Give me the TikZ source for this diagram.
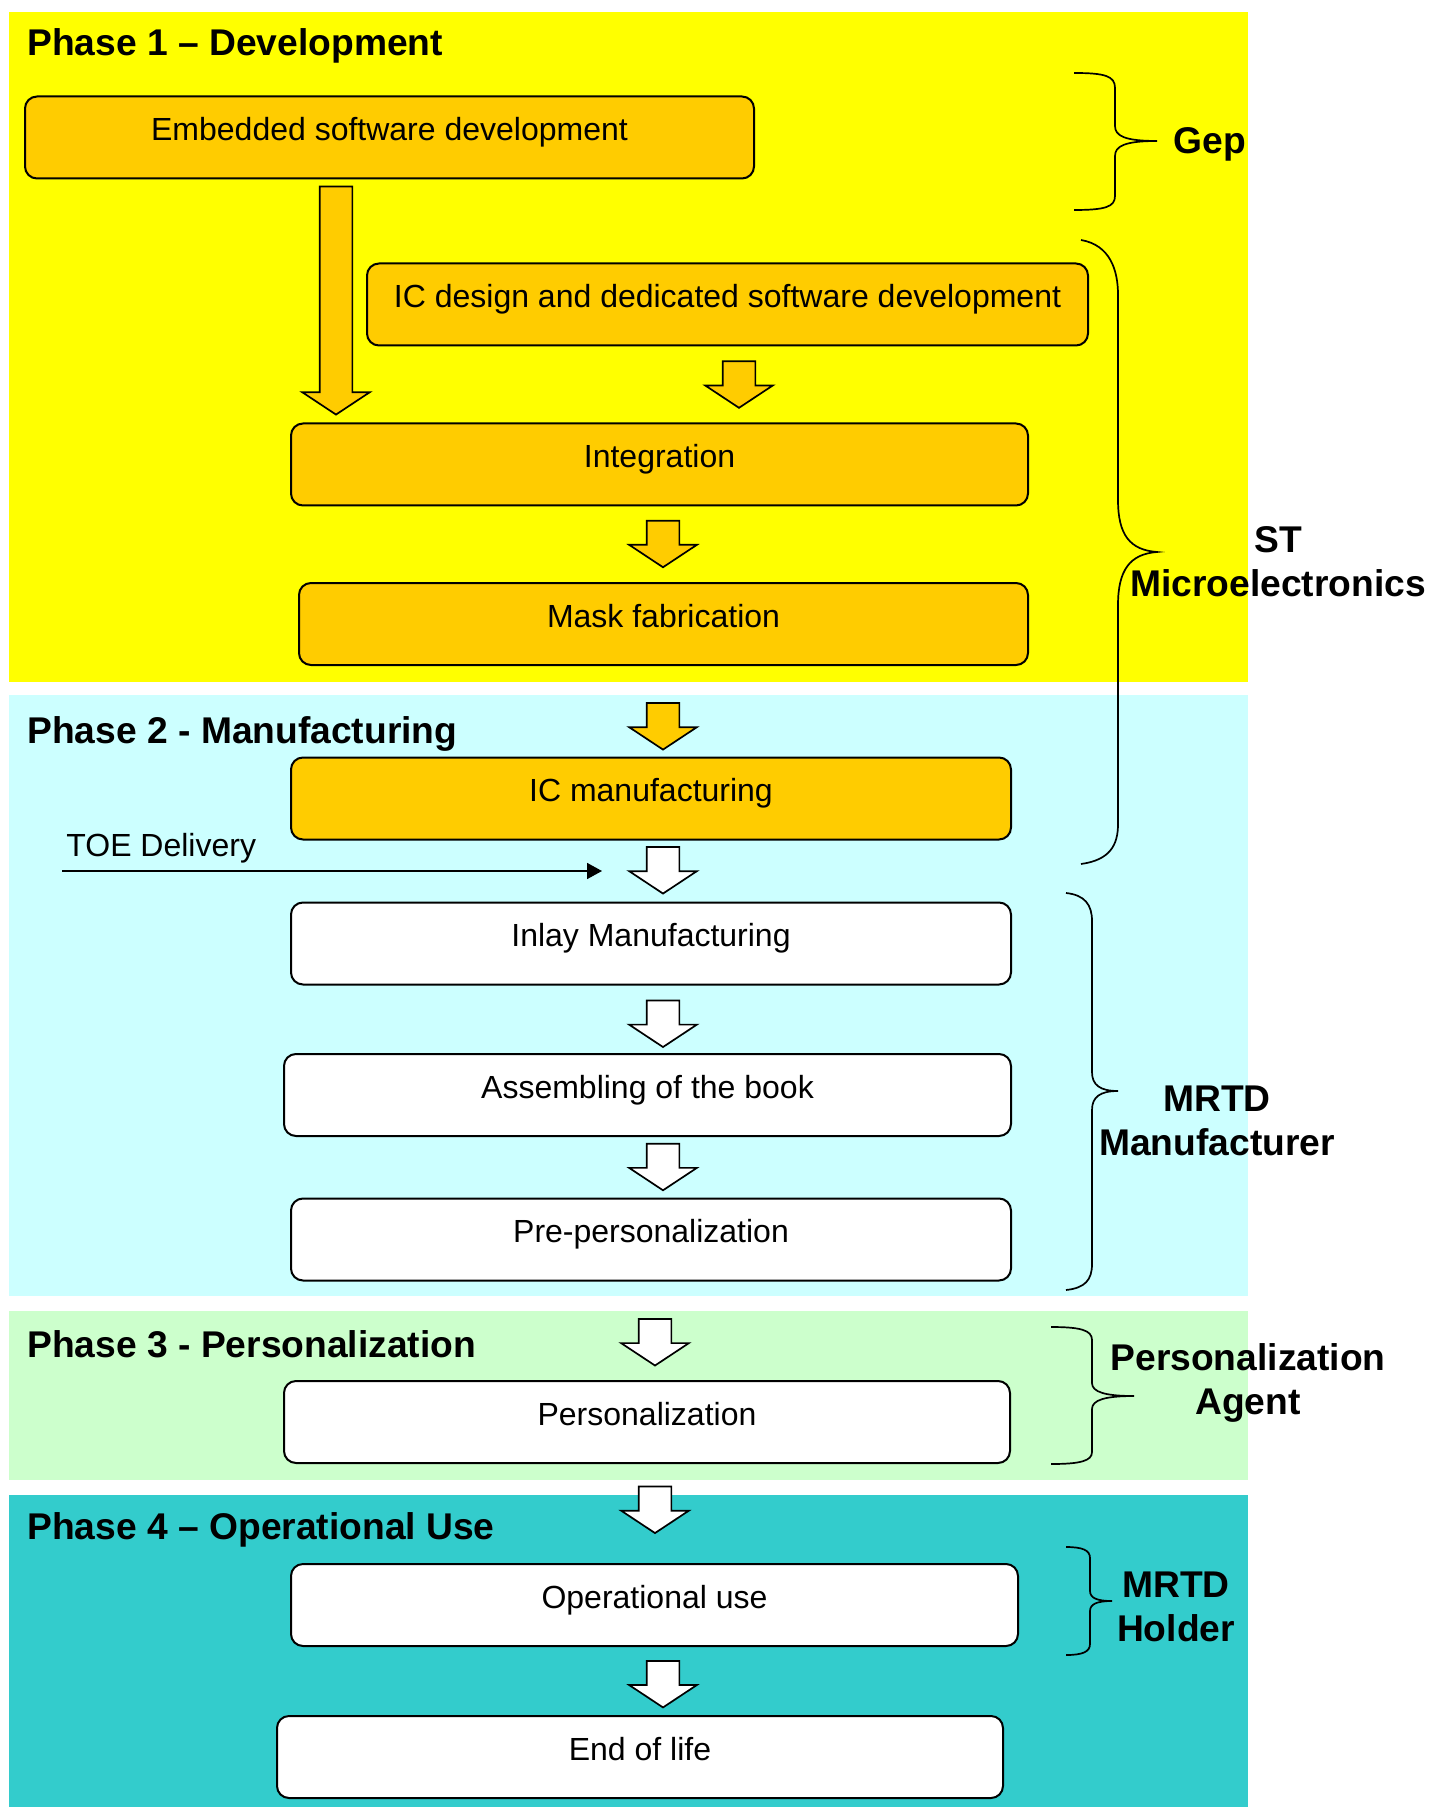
\documentclass[tikz,border=0pt]{standalone}
\usepackage{fontspec}
\setmainfont{Liberation Sans}
\usetikzlibrary{arrows.meta,shapes.arrows}
\definecolor{devyellow}{HTML}{FFFF00}
\definecolor{mfgcyan}{HTML}{CCFFFF}
\definecolor{persgreen}{HTML}{CCFFCC}
\definecolor{useteal}{HTML}{33CCCC}
\definecolor{stepgold}{HTML}{FFCC00}
\begin{document}
\begin{tikzpicture}[x=0.5pt,y=-0.5pt,
  stage/.style={draw=black, line width=1pt, rounded corners=6pt, fill=white, minimum height=41pt, inner sep=0pt, text height=11.5pt, text depth=8.5pt, font=\fontsize{16}{19}\selectfont},
  devstage/.style={stage, fill=stepgold},
  flow/.style={single arrow, draw=black, line width=0.85pt, fill=white, rotate=-90, minimum height=23.25pt, minimum width=33pt, inner xsep=0pt, inner ysep=7.75pt, single arrow tip angle=113, single arrow head extend=8.75pt},
  devflow/.style={flow, fill=stepgold},
  phase/.style={anchor=base west, inner sep=0pt, font=\fontsize{18.6}{22}\selectfont\bfseries},
  role/.style={align=center, inner sep=0pt, font=\fontsize{18.6}{22}\selectfont\bfseries},
  curly/.style={line width=0.85pt}]
\useasboundingbox (0,0) rectangle (1431,1807);
\fill[devyellow] (9,12) rectangle (1248,682);
\fill[mfgcyan] (9,695) rectangle (1248,1296);
\fill[persgreen] (9,1311) rectangle (1248,1480);
\fill[useteal] (9,1495) rectangle (1248,1807);
\node[phase] (ph1) at (27,56) {Phase 1 -- Development};
\node[phase] (ph2) at (27,743) {Phase 2 - Manufacturing};
\node[phase] (ph3) at (27,1357) {Phase 3 - Personalization};
\node[phase] (ph4) at (27,1539) {Phase 4 -- Operational Use};
\node[devstage, minimum width=364.5pt] (esw) at (389.5,137.5) {Embedded software development};
\node[devstage, minimum width=360.5pt] (icd) at (727.5,304.5) {IC design and dedicated software development};
\node[devstage, minimum width=368.5pt] (integ) at (659.5,464.5) {Integration};
\node[devstage, minimum width=364.5pt] (mask) at (663.5,624) {Mask fabrication};
\node[devstage, minimum width=360pt] (icm) at (651,798.5) {IC manufacturing};
\node[stage, minimum width=360pt] (inlay) at (651,943.5) {Inlay Manufacturing};
\node[stage, minimum width=363.5pt] (book) at (647.5,1095) {Assembling of the book};
\node[stage, minimum width=360pt] (preperso) at (651,1239.5) {Pre-personalization};
\node[stage, minimum width=363pt] (perso) at (647,1422) {Personalization};
\node[stage, minimum width=363.5pt] (opuse) at (654.5,1605) {Operational use};
\node[stage, minimum width=363pt] (eol) at (640,1757) {End of life};
\coordinate (lane) at (336,0);
\coordinate (axis) at (663,0);
\coordinate (axisb) at (655,0);
\coordinate (icdlane) at (739,0);
\path (esw.south -| lane) -- node[devflow, minimum height=114pt, pos=.476] (a1) {} (integ.north -| lane);
\path (icd.south -| icdlane) -- node[devflow, pos=.43] (a2) {} (integ.north -| icdlane);
\path (integ.south -| axis) -- node[devflow, pos=.425] (a3) {} (mask.north -| axis);
\path (mask.south -| axis) -- node[devflow, pos=.607] (a4) {} (icm.north -| axis);
\path (icm.south -| axis) -- node[flow, pos=.4] (a5) {} (inlay.north -| axis);
\path (inlay.south -| axis) -- node[flow, pos=.487] (a6) {} (book.north -| axis);
\path (book.south -| axis) -- node[flow, pos=.407] (a7) {} (preperso.north -| axis);
\path (preperso.south -| axisb) -- node[flow, pos=.562] (a8) {} (perso.north -| axisb);
\path (perso.south -| axisb) -- node[flow, pos=.408] (a9) {} (opuse.north -| axisb);
\path (opuse.south -| axis) -- node[flow, pos=.467] (a10) {} (eol.north -| axis);
\node[anchor=base west, inner sep=0pt, font=\fontsize{16}{19}\selectfont] (toe) at (66,856) {TOE Delivery};
\coordinate (toeS) at (62,871);
\coordinate (toeE) at (602,871);
\draw[line width=0.85pt, -{Triangle[length=7.5pt, width=8pt]}] (toeS) -- (toeE);
\draw[curly] (1074,73) .. controls (1105,73) and (1115,76) .. (1115,88) -- (1115,126) .. controls (1115,136) and (1125,141) .. (1157,141) .. controls (1125,141) and (1115,146) .. (1115,156) -- (1115,196) .. controls (1115,207) and (1105,210) .. (1074,210);
\draw[curly] (1081,240) .. controls (1110,245) and (1118,270) .. (1118,295) -- (1118,500) .. controls (1118,535) and (1130,550) .. (1157,552) .. controls (1130,554) and (1118,570) .. (1118,605) -- (1118,824) .. controls (1118,845) and (1110,860) .. (1081,864);
\draw[curly] (1066,893) .. controls (1085,895) and (1092,905) .. (1092,921) -- (1092,1072) .. controls (1092,1085) and (1100,1091) .. (1118,1091) .. controls (1100,1091) and (1092,1097) .. (1092,1110) -- (1092,1264) .. controls (1092,1280) and (1085,1288) .. (1066,1290);
\draw[curly] (1051,1327) .. controls (1080,1327) and (1092,1330) .. (1092,1340) -- (1092,1383) .. controls (1092,1392) and (1105,1396) .. (1134,1396) .. controls (1105,1396) and (1092,1400) .. (1092,1409) -- (1092,1452) .. controls (1092,1461) and (1080,1464) .. (1051,1464);
\draw[curly] (1066,1547) .. controls (1082,1547) and (1090,1550) .. (1090,1558) -- (1090,1591) .. controls (1090,1598) and (1097,1601) .. (1112,1601) .. controls (1097,1601) and (1090,1604) .. (1090,1611) -- (1090,1644) .. controls (1090,1652) and (1082,1655) .. (1066,1655);
\node[role, anchor=base west] (gep) at (1173,154) {Gep};
\node[role] (st) at (1278,562) {ST\\Microelectronics};
\node[role] (mrtdm) at (1217,1121) {MRTD\\Manufacturer};
\node[role] (agent) at (1248,1383) {Personalization\\Agent};
\node[role] (holder) at (1176,1607) {MRTD\\Holder};
\end{tikzpicture}
\end{document}
